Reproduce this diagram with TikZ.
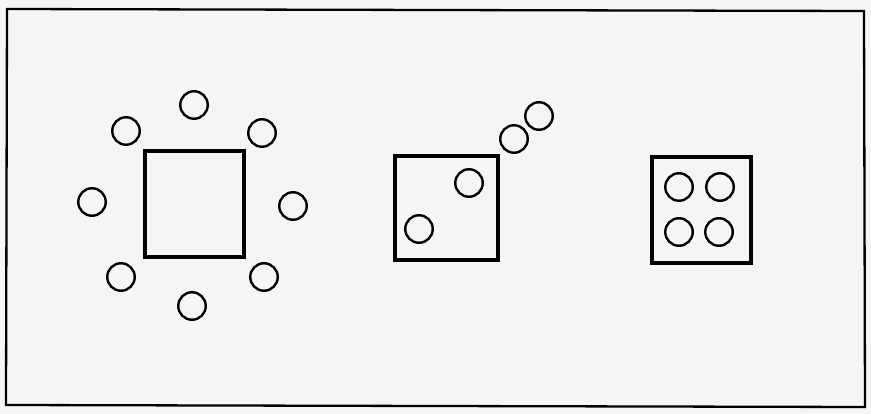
\documentclass[tikz,border=0pt]{standalone}
\begin{document}
\begin{tikzpicture}[x=1pt,y=-1pt,
  ring/.style={circle,draw=black,line width=2.4pt,minimum size=27.5pt,inner sep=0pt},
  box/.style={rectangle,draw=black,line width=3.2pt,inner sep=0pt},
  frame/.style={draw=black,line width=2.3pt}]
\useasboundingbox (0,0) rectangle (871,414);
\fill[black!4] (0,0) rectangle (871,414);
\draw[frame] (7,9) -- (864,11) -- (865,407) -- (6,405) -- cycle;
% panel 1
\node[box,minimum width=99pt,minimum height=106pt] (s1) at (194.5,204) {};
\node[ring] (a1) at (194,105) {};
\node[ring] (a2) at (126,131) {};
\node[ring] (a3) at (262,133) {};
\node[ring] (a4) at (92,202) {};
\node[ring] (a5) at (293,206) {};
\node[ring] (a6) at (121,277) {};
\node[ring] (a7) at (264,277) {};
\node[ring] (a8) at (192,306) {};
% panel 2
\node[box,minimum width=103pt,minimum height=104pt] (s2) at (446.5,208) {};
\node[ring] (b1) at (419,229) {};
\node[ring] (b2) at (469,183) {};
\node[ring] (b3) at (514,139) {};
\node[ring] (b4) at (539,116) {};
% panel 3
\node[box,minimum width=99pt,minimum height=106pt] (s3) at (701.5,210) {};
\node[ring] (c1) at (679,187) {};
\node[ring] (c2) at (720,187) {};
\node[ring] (c3) at (679,232) {};
\node[ring] (c4) at (719,232) {};
\end{tikzpicture}
\end{document}
